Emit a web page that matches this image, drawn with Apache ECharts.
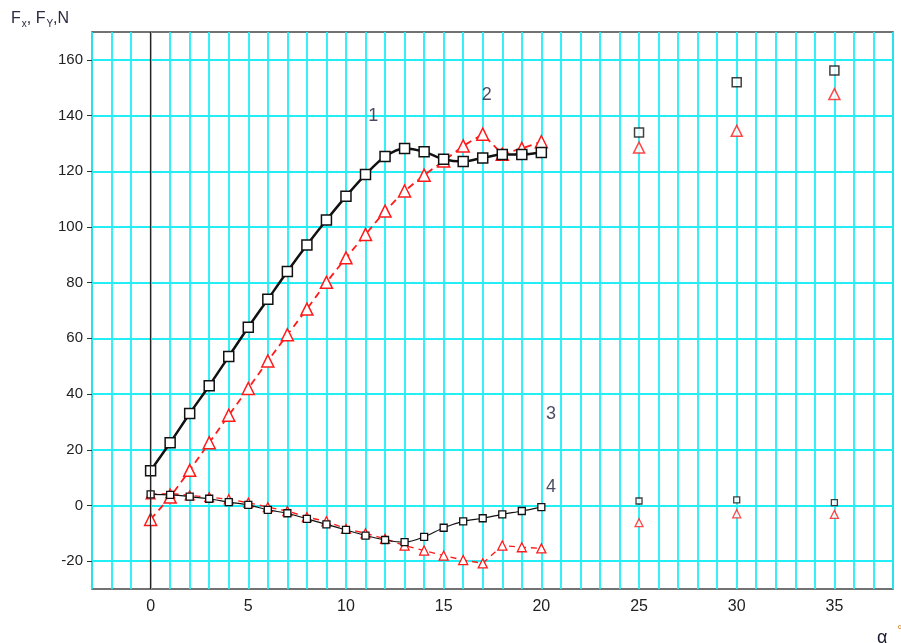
<!DOCTYPE html>
<html>
<head>
<meta charset="utf-8">
<script src="https://cdn.jsdelivr.net/npm/echarts@6/dist/echarts.min.js"></script>
<style>
  html, body { margin: 0; padding: 0; background: #fff; }
  #graph { width: 901px; height: 643px; }
</style>
</head>
<body>
<div id="graph"></div>
<script>
// angle, degrees (0..20 with lines, 25/30/35 single points)
const alpha = [0, 1, 2, 3, 4, 5, 6, 7, 8, 9, 10, 11, 12, 13, 14, 15, 16, 17, 18, 19, 20];
const alphaFar = [25, 30, 35];

// curve 1 - black squares, thick line
const fx1 = [12.5, 22.5, 33, 43, 53.5, 64, 74, 84, 93.5, 102.5, 111, 118.8, 125.3, 128.2, 127, 124.3, 123.5, 124.8, 126, 126, 126.7];
const fx1Far = [133.9, 152, 156.2];
// curve 2 - red triangles
const fy2 = [-5, 3, 12.6, 22.5, 32.4, 42, 51.9, 61.3, 70.5, 80.1, 88.9, 97.3, 105.7, 112.9, 118.6, 123.7, 129.1, 133.3, 126.1, 128.2, 130.6];
const fy2Far = [128.5, 134.5, 147.7];
// curve 3 - small black squares, thin line
const fx3 = [4, 3.8, 3.2, 2.4, 1.2, 0.2, -1.6, -2.8, -4.8, -6.8, -8.8, -10.8, -12.4, -13.2, -11.3, -8, -5.7, -4.6, -3.2, -2, -0.6];
const fx3Far = [1.6, 2, 1];
// curve 4 - small red triangles
const fy4 = [4, 4.3, 3.6, 3, 2.2, 1, -0.6, -2, -4.2, -5.7, -8.4, -10, -12, -14.4, -16.2, -18, -19.6, -20.8, -14.4, -15, -15.4];
const fy4Far = [-6.2, -3, -3.2];

// curve numbers
const curveLabels = [[11.4, 140, '1'], [17.2, 147.5, '2'], [20.5, 33, '3'], [20.5, 6.5, '4']];

const xLabels = [0, 5, 10, 15, 20, 25, 30, 35];
const yLabels = [-20, 0, 20, 40, 60, 80, 100, 120, 140, 160];

function pairs(xs, ys) {
  return xs.map((x, i) => [x, ys[i]]);
}

const black = '#111';
const red = '#ff1a1a';
const textColor = '#222';
const gridColor = '#22eef6';

function createOptions() {
  return {
    backgroundColor: '#fff',
    animation: false,
    grid: {
      left: 92, right: 8, top: 32, bottom: 54,
      show: true, borderColor: '#444', borderWidth: 1.5, backgroundColor: '#fff'
    },
    xAxis: {
      type: 'value', min: -3, max: 38, interval: 1,
      axisLine: { show: false },
      axisTick: { show: false },
      axisLabel: {
        customValues: xLabels,
        color: textColor, fontSize: 16, fontFamily: 'Liberation Sans, Arial', margin: 10
      },
      splitLine: { show: true, lineStyle: { color: gridColor, width: 1.8 } }
    },
    yAxis: {
      type: 'value', min: -30, max: 170, interval: 10,
      axisLine: { show: false, onZero: false },
      axisTick: { show: true, customValues: yLabels, length: 5, lineStyle: { color: '#333' } },
      axisLabel: {
        customValues: yLabels,
        color: textColor, fontSize: 15, fontFamily: 'Liberation Sans, Arial', margin: 9
      },
      splitLine: { show: true, lineStyle: { color: gridColor, width: 1.8 } }
    },
    graphic: [
      {
        type: 'text', left: 11, top: 11,
        style: {
          text: '{m|F}{s|x}{m|, F}{s|Y}{m|,N}',
          rich: {
            m: { fontSize: 16, fontFamily: 'Liberation Sans, Arial', fill: '#2a2a40' },
            s: { fontSize: 10, fontFamily: 'Liberation Sans, Arial', fill: '#2a2a40', padding: [10, 0, 0, 1] }
          }
        }
      },
      {
        type: 'text', left: 877, top: 629,
        style: { text: 'α', fontSize: 18, fontFamily: 'Liberation Sans, Arial', fill: '#1a1a30' }
      },
      {
        type: 'text', left: 897, top: 624,
        style: { text: '°', fontSize: 14, fontFamily: 'Liberation Sans, Arial', fill: '#e08020' }
      }
    ],
    series: [
      {
        name: 'zero', type: 'line', data: [], silent: true,
        markLine: {
          silent: true, symbol: 'none', label: { show: false },
          lineStyle: { color: '#222', type: 'solid', width: 1.2 },
          data: [{ xAxis: 0 }]
        }
      },
      {
        name: '1', type: 'line', smooth: 0.3, data: pairs(alpha, fx1),
        lineStyle: { color: black, width: 2.5 },
        symbol: 'rect', symbolSize: 10,
        itemStyle: { color: '#fff', borderColor: black, borderWidth: 1.5 },
        z: 4
      },
      {
        name: '2', type: 'line', data: pairs(alpha, fy2),
        lineStyle: { color: red, width: 1.8, type: [7, 5] },
        symbol: 'triangle', symbolSize: 12,
        itemStyle: { color: '#fff', borderColor: red, borderWidth: 1.5 },
        z: 3
      },
      {
        name: '3', type: 'line', smooth: 0.3, data: pairs(alpha, fx3),
        lineStyle: { color: black, width: 1.2 },
        symbol: 'rect', symbolSize: 7,
        itemStyle: { color: '#fff', borderColor: black, borderWidth: 1.3 },
        z: 4
      },
      {
        name: '4', type: 'line', data: pairs(alpha, fy4),
        lineStyle: { color: red, width: 1.4, type: [6, 5] },
        symbol: 'triangle', symbolSize: 9,
        itemStyle: { color: '#fff', borderColor: red, borderWidth: 1.3 },
        z: 3
      },
      {
        type: 'scatter', data: pairs(alphaFar, fx1Far), symbol: 'rect', symbolSize: 9,
        itemStyle: { color: '#fff', borderColor: black, borderWidth: 1.5 }
      },
      {
        type: 'scatter', data: pairs(alphaFar, fy2Far), symbol: 'triangle', symbolSize: 11,
        itemStyle: { color: '#fff', borderColor: red, borderWidth: 1.5 }
      },
      {
        type: 'scatter', data: pairs(alphaFar, fx3Far), symbol: 'rect', symbolSize: 6,
        itemStyle: { color: '#fff', borderColor: black, borderWidth: 1.3 }
      },
      {
        type: 'scatter', data: pairs(alphaFar, fy4Far), symbol: 'triangle', symbolSize: 8,
        itemStyle: { color: '#fff', borderColor: red, borderWidth: 1.3 }
      },
      {
        type: 'scatter', symbolSize: 0, silent: true,
        data: curveLabels.map(d => ({ value: [d[0], d[1]], name: d[2] })),
        label: {
          show: true, position: 'inside', formatter: '{b}',
          color: '#1c1c3c', fontSize: 18, fontFamily: 'Liberation Sans, Arial'
        }
      }
    ]
  };
}

const myChart = echarts.init(document.getElementById('graph'));
myChart.setOption(createOptions());
</script>
</body>
</html>
